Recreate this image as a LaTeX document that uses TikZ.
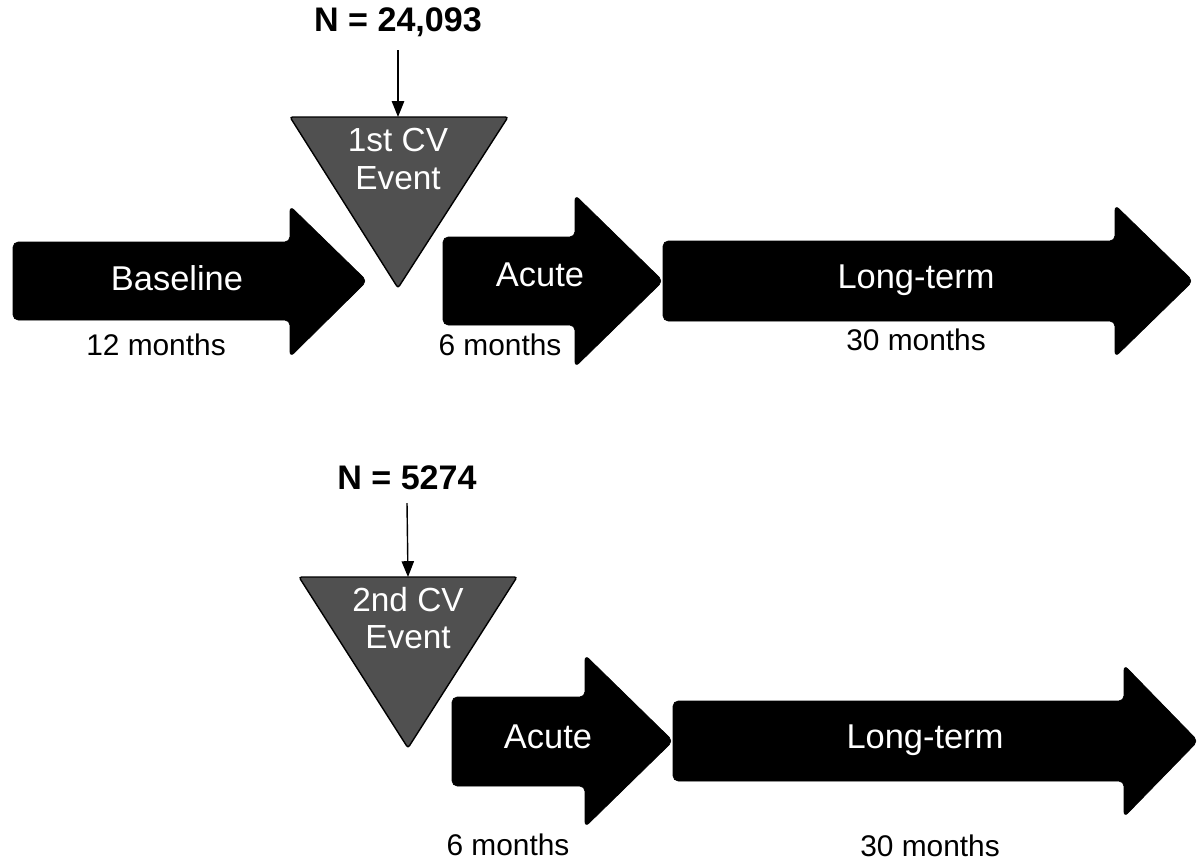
\documentclass[tikz,border=0pt]{standalone}
\usepackage{fontspec}
\setmainfont{Liberation Sans}
\usetikzlibrary{arrows.meta}
\usetikzlibrary{positioning}
\definecolor{eventgray}{HTML}{505050}
\tikzset{
	phase/.style={
		fill=black,
		draw=black,
		rounded corners=3pt},
	event/.style={
		fill=eventgray,
		draw=black,
		line width=0.8pt,
		rounded corners=1.5pt},
	phaselabel/.style={
		text=white,
		font=\fontsize{19.6}{22}\selectfont},
	eventlabel/.style={
		text=white,
		align=center,
		font=\fontsize{19}{21.5}\selectfont},
	monthlabel/.style={
		inner sep=1pt,
		font=\fontsize{17}{20}\selectfont},
	countlabel/.style={
		font=\bfseries\fontsize{19.4}{22}\selectfont},
	pointer/.style={
		draw,
		line width=0.8pt,
		-{Triangle[length=9pt,width=7pt]}}
}
\begin{document}
\begin{tikzpicture}[x=0.02cm,y=-0.02cm]
	\useasboundingbox (0,0) rectangle (1199,862);
	% first event
	\draw[phase] (13,242) -- (290,242) -- (290,206) -- (367,281) -- (290,357) -- (290,320) -- (13,320) -- cycle;
	\draw[phase] (443,237) -- (575,237) -- (575,195) -- (663,281) -- (575,367) -- (575,325) -- (443,325) -- cycle;
	\draw[phase] (663,241) -- (1115,241) -- (1115,205) -- (1193,281) -- (1115,357) -- (1115,321) -- (663,321) -- cycle;
	\draw[event] (290,117) -- (508,117) -- (398,288) -- cycle;
	\coordinate (T1) at (398,117);
	\node[countlabel] (N1) at (398,22) {N = 24,093};
	\node[eventlabel] (E1) at (398,159) {1st CV\\Event};
	\node[phaselabel] (B1) at (177,278) {Baseline};
	\node[phaselabel] (A1) at (540,275) {Acute};
	\node[phaselabel] (L1) at (916,280) {Long-term};
	\node[monthlabel] (m12) at (156,345) {12 months};
	\node[monthlabel] (m6a) at (500,345) {6 months};
	\node[monthlabel] (m30a) at (916,340) {30 months};
	\draw[pointer] (N1.south |- 0,50) -- (T1);
	% second event
	\draw[phase] (452,697) -- (585,697) -- (585,655) -- (673,741) -- (585,827) -- (585,786) -- (452,786) -- cycle;
	\draw[phase] (673,701) -- (1124,701) -- (1124,665) -- (1198,741) -- (1124,817) -- (1124,781) -- (673,781) -- cycle;
	\draw[event] (299,577) -- (517,577) -- (408,748) -- cycle;
	\coordinate (T2) at (408,577);
	\node[countlabel] (N2) at (407,478) {N = 5274};
	\node[eventlabel] (E2) at (408,618) {2nd CV\\Event};
	\node[phaselabel] (A2) at (548,737) {Acute};
	\node[phaselabel] (L2) at (925,740) {Long-term};
	\node[monthlabel] (m6b) at (508,845) {6 months};
	\node[monthlabel] (m30b) at (930,846) {30 months};
	\draw[pointer] (N2.south |- 0,503) -- (T2);
\end{tikzpicture}
\end{document}
